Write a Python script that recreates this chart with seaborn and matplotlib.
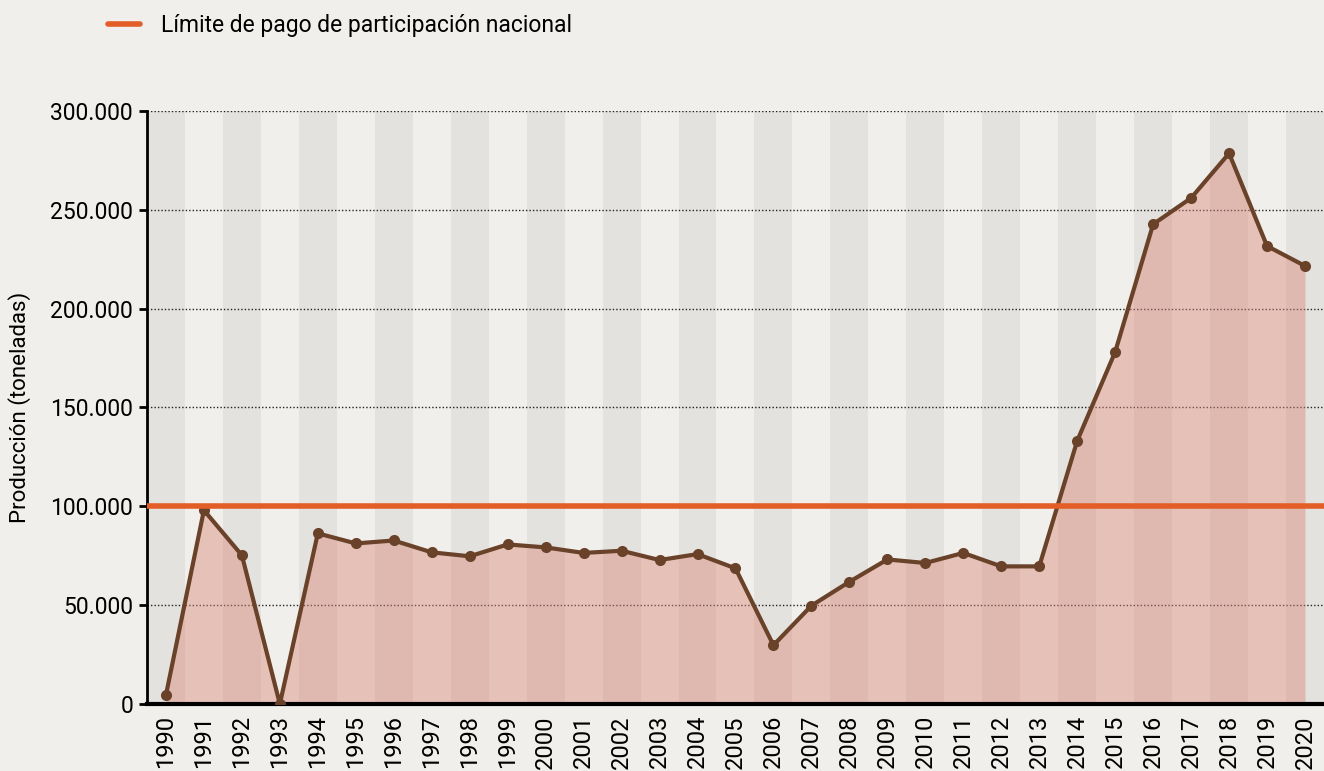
import numpy as np
import pandas as pd
import matplotlib
matplotlib.use('Agg')
import matplotlib.pyplot as plt
import matplotlib.ticker as mticker
import seaborn as sns

years = list(range(1990, 2021))
produccion = [4500, 98000, 75200, 0, 86300, 81200, 82700, 76700, 74700, 80700,
              79200, 76400, 77500, 72800, 75800, 68600, 29700, 49700, 61800, 73100,
              71300, 76400, 69600, 69600, 133100, 178100, 242700, 256000, 278600, 231700,
              221600]
limite = 100000
limite_label = 'Límite de pago de participación nacional'
y_label = 'Producción (toneladas)'
y_ticks = [0, 50000, 100000, 150000, 200000, 250000, 300000]

df = pd.DataFrame({'year': years, 'produccion': produccion})

bg = '#F1EFEB'
band = '#E4E2DE'
brown = '#6A4229'
orange = '#E35D26'
pink = '#D9897A'

sns.set_theme(style='white')
plt.rcParams['font.family'] = ['Roboto', 'DejaVu Sans']
plt.rcParams['text.color'] = '#000000'
plt.rcParams['xtick.color'] = '#000000'
plt.rcParams['ytick.color'] = '#000000'
plt.rcParams['axes.labelcolor'] = '#000000'

fig = plt.figure(figsize=(13.24, 7.71), dpi=100, facecolor=bg)
ax = fig.add_axes([0.111, 0.087, 0.889, 0.769])
ax.set_facecolor(bg)

# alternating year bands
for i, yr in enumerate(years):
    if i % 2 == 0:
        ax.axvspan(yr - 0.5, yr + 0.5, color=band, lw=0, zorder=0)

# dotted grid
for v in y_ticks[1:]:
    ax.axhline(v, color='#222222', lw=1, ls=(0, (1, 1.5)), zorder=1)

ax.fill_between(df['year'], df['produccion'], 0, color=pink, alpha=0.45, lw=0, zorder=2)
sns.lineplot(data=df, x='year', y='produccion', ax=ax, color=brown, lw=3,
             marker='o', markersize=8, markeredgewidth=0, zorder=4)
ax.axhline(limite, color=orange, lw=4, zorder=5, label=limite_label)

ax.set_xlim(1989.5, 2020.18)
ax.set_ylim(0, 300000)
ax.set_yticks(y_ticks)
ax.yaxis.set_major_formatter(mticker.FuncFormatter(lambda v, p: f'{int(v):,}'.replace(',', '.')))
ax.set_xticks(years)
ax.set_xticklabels([str(y) for y in years], rotation=90, fontsize=17)
ax.set_xticks([y + 0.5 for y in years], minor=True)
ax.tick_params(axis='x', which='major', length=0, pad=8)
ax.tick_params(axis='x', which='minor', length=6, width=2, color='black', direction='out')
ax.tick_params(axis='y', which='major', length=6, width=2, color='black', labelsize=16.5, pad=4)
ax.tick_params(axis='y', direction='out', left=True)
ax.set_xlabel('')
ax.set_ylabel(y_label, fontsize=16, labelpad=14)

for s in ['top', 'right']:
    ax.spines[s].set_visible(False)
ax.spines['left'].set_linewidth(2)
ax.spines['bottom'].set_linewidth(3)
ax.spines['left'].set_color('black')
ax.spines['bottom'].set_color('black')

ax.legend(loc='center left', bbox_to_anchor=(0.066, 0.967), bbox_transform=fig.transFigure,
          frameon=False, fontsize=16.5, handlelength=1.4, handletextpad=0.9)

fig.savefig('out.png', dpi=100, facecolor=bg)
